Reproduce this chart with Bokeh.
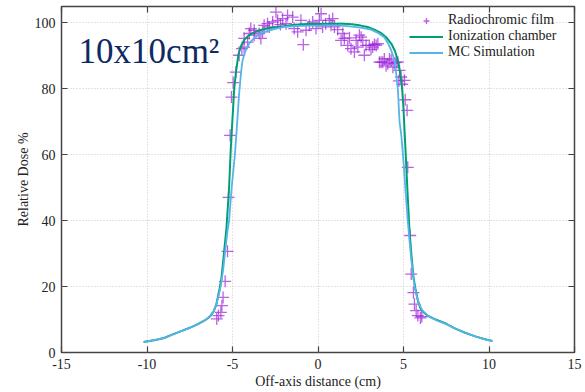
from bokeh.plotting import figure
from bokeh.models import FixedTicker, LinearAxis, Label, Legend, LegendItem, Range1d
from bokeh.embed import file_html
from bokeh.resources import INLINE

# ---- data ----
ic_x = [-10.2, -9.5, -9.0, -8.5, -8.0, -7.5, -7.0, -6.6, -6.3, -6.1, -5.95, -5.85, -5.75, -5.65,
        -5.5, -5.35, -5.2, -5.1, -5.0, -4.9, -4.8, -4.65, -4.5, -4.3, -4.1, -3.8, -3.4, -3.0, -2.5,
        -2.0, -1.5, -1.0, -0.5, 0.0, 0.5, 1.0, 1.5, 2.0, 2.5, 2.9, 3.3, 3.7, 4.0, 4.3, 4.5, 4.67,
        4.8, 4.92, 5.0, 5.06, 5.15, 5.25, 5.35, 5.45, 5.58, 5.7, 5.85, 6.0, 6.15, 6.4, 6.8, 7.4,
        8.0, 8.6, 9.2, 9.7, 10.2]
ic_y = [3.2, 3.8, 4.4, 5.5, 6.5, 7.5, 8.7, 9.8, 11.0, 12.5, 14.5, 17.0, 19.5, 22.5,
        30.0, 38.0, 50.0, 62.0, 71.0, 80.0, 85.0, 90.5, 93.0, 95.0, 96.0, 97.0, 97.8, 98.3, 98.7,
        99.0, 99.4, 99.6, 99.7, 99.7, 99.8, 99.8, 99.8, 99.6, 99.2, 98.8, 98.0, 96.9, 95.6, 93.6, 91.5, 88.7,
        85.0, 80.0, 74.0, 67.4, 58.0, 47.0, 37.0, 30.5, 23.0, 19.3, 15.5, 13.3, 12.3, 11.2, 10.2, 9.0,
        7.3, 6.0, 4.9, 4.1, 3.5]

mc_x = [-10.2, -9.5, -9.0, -8.5, -8.0, -7.5, -7.0, -6.6, -6.3, -6.1, -5.95, -5.8, -5.68, -5.55,
        -5.4, -5.29, -5.2, -5.05, -4.86, -4.75, -4.62, -4.5, -4.41, -4.25, -4.02, -3.7, -3.15, -2.5,
        -1.97, -1.5, -1.0, -0.5, 0.0, 0.5, 1.0, 1.35, 2.0, 2.5, 3.1, 3.5, 3.87, 4.1, 4.28, 4.4, 4.5,
        4.67, 4.77, 4.87, 5.0, 5.12, 5.25, 5.35, 5.45, 5.55, 5.64, 5.8, 5.95, 6.1, 6.3, 6.52, 7.0,
        7.5, 8.18, 8.6, 9.2, 9.7, 10.2]
mc_y = [3.2, 3.8, 4.4, 5.4, 6.5, 7.5, 8.6, 9.8, 11.2, 12.6, 14.5, 17.5, 20.3, 25.0,
        32.0, 37.0, 40.0, 50.0, 60.0, 68.0, 78.0, 85.0, 88.7, 91.5, 93.8, 95.6, 97.3, 98.2,
        98.8, 99.0, 99.1, 99.2, 99.2, 99.3, 99.3, 99.2, 98.9, 98.6, 98.0, 97.0, 95.7, 93.8, 91.7, 89.8, 88.0,
        80.0, 70.0, 66.0, 58.0, 49.0, 40.0, 34.0, 28.5, 24.0, 20.3, 16.5, 14.3, 12.8, 11.8, 10.8, 9.6,
        8.6, 6.9, 6.0, 4.9, 4.1, 3.4]

film_x = [-5.92, -5.82, -5.68, -5.62, -5.55, -5.43, -5.29, -5.23, -5.14, -5.06, -4.96, -4.8, -4.61,
          -4.45, -4.32, -4.12, -4.32, -4.02, -3.93, -3.73, -3.73, -3.44, -3.34, -3.24, -3.15, -2.95,
          -2.85, -2.65, -2.46, -2.36, -2.2, -2.07, -1.87, -1.78, -1.48, -1.39, -1.19, -1.0, -0.86,
          -0.7, -0.51, -0.31, -0.12, 0.08, 0.18, 0.27, 0.45, 0.66, 0.76, 0.86, 0.96, 1.15, 1.35, 1.45,
          1.54, 1.74, 1.84, 1.93, 2.13, 2.23, 2.33, 2.42, 2.52, 2.62, 2.71, 2.81, 3.0, 3.1, 3.2, 3.3,
          3.4, 3.5, 3.59, 3.69, 3.79, 3.88, 3.98, 4.08, 4.18, 4.28, 4.38, 4.47, 4.57, 4.67, 4.73,
          4.77, 4.86, 4.92, 5.06, 5.1, 5.21, 5.25, 5.39, 5.45, 5.58, 5.64, 5.74, 5.84, 5.99, 6.07]
film_y = [10.2, 11.2, 12.2, 14.2, 16.7, 21.6, 30.7, 47.1, 65.9, 77.5, 81.9, 85.1, 90.2,
          92.2, 92.7, 94.2, 95.3, 96.8, 98.3, 96.3, 97.8, 96.8, 95.3, 97.3, 99.3, 99.8,
          98.8, 100.3, 103.3, 100.8, 99.5, 101.3, 99.8, 102.3, 101.8, 98.3, 97.3, 100.8, 93.4,
          97.8, 99.3, 100.3, 98.3, 100.8, 102.8, 98.8, 99.8, 100.8, 99.3, 101.3, 98.8, 98.0, 94.7, 96.8,
          95.3, 93.2, 95.5, 92.2, 91.2, 94.7, 92.7, 96.3, 95.7, 94.7, 90.2, 93.2, 93.2, 92.0, 92.7, 93.5,
          93.2, 93.7, 88.1, 88.1, 88.1, 89.1, 87.0, 87.6, 89.1, 88.7, 86.6, 87.8, 88.1, 88.1, 82.4,
          85.6, 83.6, 81.4, 82.6, 76.7, 73.5, 56.2, 35.5, 23.8, 18.2, 14.7, 12.7, 11.2, 10.5, 10.9]

x_ticks = [-15, -10, -5, 0, 5, 10, 15]
x_tick_labels = ["-15", "-10", "-5", "0", "5", "10", "15"]
y_ticks = [0, 20, 40, 60, 80, 100]
title_text = "10x10cm\u00b2"
series_names = ["Radiochromic film", "Ionization chamber", "MC Simulation"]

SERIF = "Liberation Serif"
FRAME = "#444444"
TXT = "#222222"

p = figure(width=585, height=392, min_border_left=61, min_border_right=11,
           min_border_top=6, min_border_bottom=40,
           x_range=Range1d(-15, 15), y_range=Range1d(0, 105),
           output_backend="svg", toolbar_location=None)
p.background_fill_color = "white"
p.border_fill_color = "white"
p.outline_line_color = FRAME
p.outline_line_width = 1.5

# grid
for g in (p.xgrid, p.ygrid):
    g.grid_line_color = "#c8c8c8"
    g.grid_line_dash = "1 2"
    g.grid_line_width = 1
p.xgrid.ticker = FixedTicker(ticks=x_ticks)
p.ygrid.ticker = FixedTicker(ticks=y_ticks)

def style_axis(ax, labels=True):
    ax.axis_line_color = None
    ax.major_tick_line_color = FRAME
    ax.major_tick_line_width = 1.2
    ax.major_tick_in = 6
    ax.major_tick_out = 0
    ax.minor_tick_line_color = None
    ax.major_label_text_font = SERIF
    ax.major_label_text_color = TXT
    ax.axis_label_text_font = SERIF
    ax.axis_label_text_font_style = "normal"
    ax.axis_label_text_color = TXT
    ax.axis_label_text_font_size = "14px"
    ax.major_label_text_font_size = "14px"
    if labels:
        ax.major_label_standoff = 6
    else:
        ax.major_label_standoff = 0
        ax.major_label_overrides = {t: "" for t in ax.ticker.ticks}

xa = p.xaxis[0]
ya = p.yaxis[0]
xa.ticker = FixedTicker(ticks=x_ticks)
ya.ticker = FixedTicker(ticks=y_ticks)
style_axis(xa)
style_axis(ya)
xa.major_label_overrides = dict(zip(x_ticks, x_tick_labels))
xa.axis_label = "Off-axis distance (cm)"
ya.axis_label = "Relative Dose %"
xa.axis_label_standoff = 2
ya.axis_label_standoff = 1

top = LinearAxis(ticker=FixedTicker(ticks=x_ticks))
right = LinearAxis(ticker=FixedTicker(ticks=y_ticks))
style_axis(top, labels=False)
style_axis(right, labels=False)
p.add_layout(top, "above")
p.add_layout(right, "right")

r_film = p.scatter(film_x, film_y, marker="cross", size=12, line_color="#9b1fd9",
                   line_alpha=0.7, line_width=1.3)
r_ic = p.line(ic_x, ic_y, line_color="#009e73", line_width=2)
r_mc = p.line(mc_x, mc_y, line_color="#56b4e9", line_width=1.8)

legend = Legend(items=[LegendItem(label=series_names[0], renderers=[r_film]),
                       LegendItem(label=series_names[1], renderers=[r_ic]),
                       LegendItem(label=series_names[2], renderers=[r_mc])],
                location=(348, 292))
legend.background_fill_alpha = 0
legend.border_line_color = None
legend.label_text_font = SERIF
legend.label_text_font_size = "14px"
legend.label_text_color = TXT
legend.glyph_width = 34
legend.glyph_height = 15
legend.label_height = 15
legend.spacing = 0
legend.padding = 3
legend.margin = 0
p.add_layout(legend)

p.add_layout(Label(x=-14.0, y=91.2, text=title_text, text_font=SERIF, text_font_size="35px",
                   text_color="#0d2a63", text_baseline="alphabetic"))

open("out.html", "w").write(file_html(p, INLINE))
